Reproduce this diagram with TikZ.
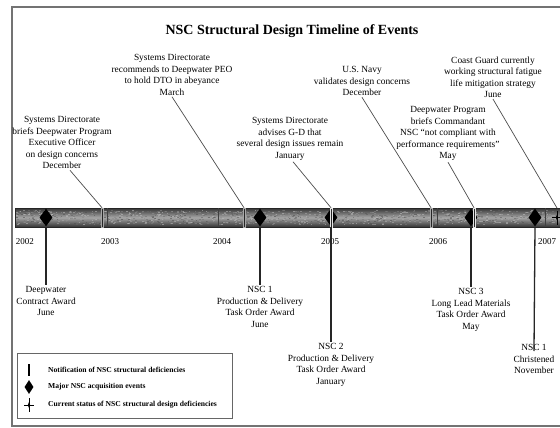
\documentclass[tikz,border=0pt]{standalone}
\usepackage{fontspec}
\setmainfont{Liberation Serif}
\usetikzlibrary{shapes.geometric}
\tikzset
    { event text/.style =
        { align=center, inner sep=0pt, outer sep=1.5pt
        , font=\fontsize{9.4}{11.5}\selectfont
        }
    , year label/.style = {font=\fontsize{9}{10}\selectfont, inner sep=0pt}
    , legend text/.style =
        { anchor=west, inner sep=0pt
        , font=\bfseries\fontsize{7.6}{9}\selectfont
        }
    , major event/.style =
        { diamond, fill=black, inner sep=0pt
        , minimum width=13pt, minimum height=18pt
        }
    , notice mark/.style =
        { rectangle, fill=black!85, draw=black!35, line width=0.5pt
        , inner sep=0pt, minimum width=2pt, minimum height=19pt
        }
    , callout/.style = {black!70, line width=0.7pt}
    , stem/.style = {black!85, line width=1.3pt}
    , status cross/.pic =
        { \draw[line width=0.6pt] (0,-7) -- (0,7) (-5,0) -- (5,0);
          \fill (0,-3) -- (1.2,0) -- (0,3) -- (-1.2,0) -- cycle;
        }
    }

\begin{document}
\begin{tikzpicture}[x=1pt, y=-1pt]

    \useasboundingbox (0,0) rectangle (560,428);
    \draw[black!55, line width=1.3pt] (12,7) rectangle (600,426);

    \node[font=\bfseries\fontsize{14}{16}\selectfont] (title) at (292,31)
        {NSC Structural Design Timeline of Events};

    % the time bar
    \shade[top color=black!80, bottom color=black!80, middle color=black!35]
        (15,208) rectangle (580,227);
    \pgfmathsetseed{2007}
    \foreach \i in {1,...,1400}
        { \pgfmathsetmacro{\px}{15+560*rnd}
          \pgfmathsetmacro{\py}{210+14*rnd}
          \pgfmathsetmacro{\pc}{int(25+45*rnd)}
          \fill[black!\pc, opacity=0.6] (\px,\py) rectangle ++(1.8,0.9);
        }
    \draw[black!85, line width=0.8pt] (15,208) rectangle (580,227);
    \foreach \x in {107, 218, 437, 545}
        \draw[black!75, line width=0.8pt] (\x,208) -- (\x,227);

    \foreach \yr/\x in {2002/25, 2003/110, 2004/222, 2005/330, 2006/438, 2007/547}
        \node[year label] (y\yr) at (\x,242) {\yr};

    % major acquisition events
    \node[major event] (dAward) at (46,217.5) {};
    \node[major event] (dNSC1) at (260,217.5) {};
    \node[major event] (dNSC2) at (331,217.5) {};
    \node[major event] (dNSC3) at (471,217.5) {};
    \node[major event] (dChrist) at (535,217.5) {};

    % notifications
    \node[notice mark] (nDec02) at (102,217.5) {};
    \node[notice mark] (nMar04) at (244,217.5) {};
    \node[notice mark, draw=black!10] (nJan05) at (331,217.5) {};
    \node[notice mark] (nDec05) at (431,217.5) {};
    \node[notice mark, draw=black!10] (nMay06) at (474,217.5) {};
    \pic at (557,217.5) {status cross};
    \coordinate (cJun07) at (557,208);

    % texts above the bar
    \node[event text, anchor=north] (tDec02) at (62,115)
        {Systems Directorate\\briefs Deepwater Program\\Executive Officer\\on design concerns\\December};
    \node[event text, anchor=north] (tMar04) at (172,53)
        {Systems Directorate\\recommends to Deepwater PEO\\to hold DTO in abeyance\\March};
    \node[event text, anchor=north] (tJan05) at (290,116)
        {Systems Directorate\\advises G-D that\\several design issues remain\\January};
    \node[event text, anchor=north] (tDec05) at (362,65)
        {U.S. Navy\\validates design concerns\\December};
    \node[event text, anchor=north] (tMay06) at (448,105)
        {Deepwater Program\\briefs Commandant\\NSC ``not compliant with\\performance requirements''\\May};
    \node[event text, anchor=north] (tJun07) at (493,55)
        {Coast Guard currently\\working structural fatigue\\life mitigation strategy\\June};

    \draw[callout] ([xshift=8pt]tDec02.south) -- (nDec02.north);
    \draw[callout] (tMar04.south) -- (nMar04.north);
    \draw[callout] ([xshift=3pt]tJan05.south) -- (nJan05.north);
    \draw[callout] (tDec05.south) -- (nDec05.north);
    \draw[callout] (tMay06.south) -- (nMay06.north);
    \draw[callout] (tJun07.south) -- (cJun07);

    % texts below the bar
    \node[event text, anchor=north] (tAward) at (46,285)
        {Deepwater\\Contract Award\\June};
    \node[event text, anchor=north] (tNSC1) at (260,285)
        {NSC 1\\Production \& Delivery\\Task Order Award\\June};
    \node[event text, anchor=north] (tNSC2) at (331,342)
        {NSC 2\\Production \& Delivery\\Task Order Award\\January};
    \node[event text, anchor=north] (tNSC3) at (471,287)
        {NSC 3\\Long Lead Materials\\Task Order Award\\May};
    \node[event text, anchor=north] (tChrist) at (534,343)
        {NSC 1\\Christened\\November};

    \draw[stem] (dAward.south) -- (tAward.north);
    \draw[stem] (dNSC1.south) -- (tNSC1.north);
    \draw[stem] (dNSC2.south) -- (tNSC2.north);
    \draw[stem] (dNSC3.south) -- (tNSC3.north);
    \draw[stem] (dChrist.south) -- ([yshift=-8pt]tChrist.north);

    % legend
    \draw[black!60, line width=0.8pt] (17,353) rectangle (232,418);
    \fill[black] (28,364) rectangle (30.2,376);
    \node[major event, minimum width=9pt, minimum height=14pt] (lgDiamond) at (29,387) {};
    \pic at (29,405) {status cross};
    \node[legend text] (lgNotice) at (48,370) {Notification of NSC structural deficiencies};
    \node[legend text] (lgMajor) at (48,387) {Major NSC acquisition events};
    \node[legend text] (lgStatus) at (48,405) {Current status of NSC structural design deficiencies};

\end{tikzpicture}
\end{document}
